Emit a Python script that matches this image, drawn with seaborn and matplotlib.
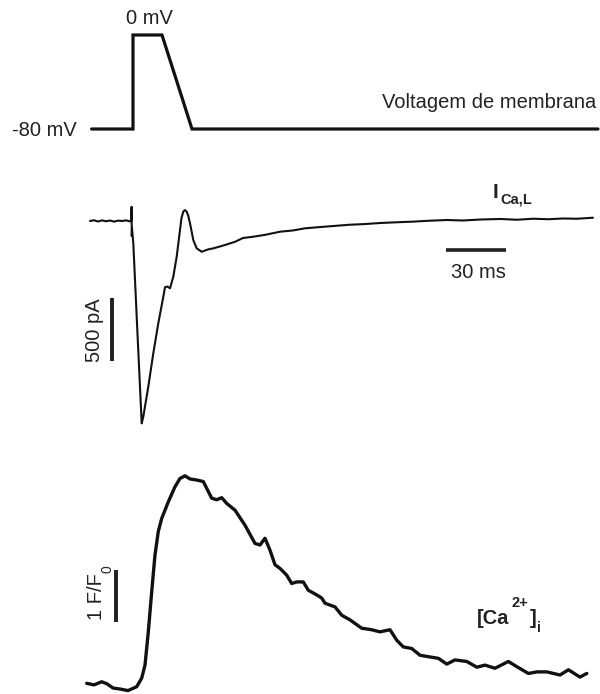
import matplotlib
matplotlib.use("Agg")
import matplotlib.pyplot as plt
import seaborn as sns
import pandas as pd

# ---------------- data ----------------
# Voltage protocol (time in ms, membrane potential in mV)
v_time = [-20.7, 0.0, 0.0, 14.5, 29.5, 232.5]
v_mV = [-80, -80, 0, 0, -80, -80]

# L-type Ca2+ current (time in ms, current in pA)
i_time = [-21.5, -19.5, -17.5, -15.5, -13.5, -11.5, -9.5, -7.5, -5.5, -3.5, -1.5, -0.9,
          -0.7, -0.6, -0.5, 0.15, 2.2, 4.35, 5.15, 7.65, 10.15, 12.65, 15.15, 16.0, 17.2,
          18.5, 20.15, 21.85, 23.5, 24.25, 25.15, 26.0, 26.85, 27.65, 28.5, 30.15, 31.85,
          34.35, 37.65, 40.15, 44.0, 47.5, 51.0, 55.0, 60.0, 66.0, 73.5, 80.0, 86.0, 93.5,
          100.0, 108.0, 115.0, 123.5, 132.0, 140.0, 148.0, 157.0, 165.0, 174.0, 183.5,
          192.0, 200.0, 208.0, 215.0, 222.0, 230.0]
i_pA = [0, 6, -4, 5, -2, 4, -5, 3, 0, 5, -3, 2,
        113, -120, -60, -175, -880, -1606, -1553, -1315, -1050, -812, -601, -526, -520,
        -534, -442, -283, -71, 24, 74, 87, 74, 40, -18, -151, -217,
        -244, -225, -217, -200, -183, -165, -135, -125, -110, -85, -75, -58, -48,
        -40, -30, -25, -16, -10, -5, 2, 8, 4, 12, 16,
        10, 18, 14, 20, 18, 26]

# Ca2+ transient (time in ms, F/F0)
c_time = [-23.15, -19.5, -15.65, -13.0, -10.0, -6.5, -2.5, 1.85, 4.35, 6.0, 7.65, 9.35,
          11.0, 12.65, 14.35, 17.65, 21.0, 23.5, 26.0, 28.5, 31.85, 35.15, 36.85, 39.35,
          41.85, 44.35, 46.85, 51.0, 56.0, 61.0, 63.5, 66.0, 68.5, 71.0, 73.5, 76.85,
          79.35, 81.85, 85.15, 87.65, 91.85, 94.35, 96.0, 101.0, 104.35, 108.5, 114.35,
          119.35, 123.5, 128.5, 131.85, 135.15, 139.35, 143.5, 148.0, 152.7, 156.9, 161.0,
          166.9, 171.9, 176.0, 181.0, 187.7, 191.9, 197.7, 202.0, 206.9, 213.5, 217.7,
          221.0, 223.5, 226.9]
c_FF0 = [0.09, 0.06, 0.12, 0.08, 0.0, -0.02, -0.05, 0.025, 0.19, 0.44, 1.08, 1.85,
         2.56, 3.01, 3.26, 3.58, 3.87, 4.03, 4.08, 4.02, 4.00, 3.97, 3.84, 3.65,
         3.62, 3.66, 3.55, 3.42, 3.13, 2.78, 2.75, 2.88, 2.65, 2.37, 2.30, 2.17,
         2.01, 2.04, 2.04, 1.88, 1.79, 1.73, 1.63, 1.56, 1.40, 1.31, 1.15,
         1.12, 1.08, 1.12, 0.92, 0.79, 0.76, 0.63, 0.60, 0.57, 0.46, 0.54,
         0.51, 0.40, 0.44, 0.38, 0.51, 0.41, 0.28, 0.31, 0.31, 0.25, 0.35,
         0.27, 0.21, 0.28]

# scale bar sizes
bar_ms = 30
bar_pA = 500
bar_FF0 = 1

# ---------------- figure ----------------
sns.set_theme(style="white")
plt.rcParams["font.family"] = ["Liberation Sans", "DejaVu Sans"]

W, H = 600, 694
fig = plt.figure(figsize=(W / 100, H / 100), dpi=100)
ink = "#111111"
txt = "#222222"

# pixel -> time mapping: x = 133 + 2*t
t_lo, t_hi = (0 - 133) / 2, (W - 133) / 2


def make_ax(ylo, yhi):
    ax = fig.add_axes([0, 0, 1, 1])
    ax.patch.set_alpha(0)
    ax.set_xlim(t_lo, t_hi)
    ax.set_ylim(ylo, yhi)
    ax.set_axis_off()
    return ax


# Voltage axes: y_px = 129 - (V+80)*94/80
vs = 94 / 80
ax_v = make_ax(-80 - (H - 129) / vs, -80 + 129 / vs)
# Current axes: y_px = 221 - I*0.126
isc = 63 / 500
ax_i = make_ax((221 - H) / isc, 221 / isc)
# Calcium axes: y_px = 688 - F*52
csc = 52
ax_c = make_ax((688 - H) / csc, 688 / csc)

dv = pd.DataFrame({"t": v_time, "v": v_mV})
di = pd.DataFrame({"t": i_time, "i": i_pA})
dc = pd.DataFrame({"t": c_time, "c": c_FF0})

sns.lineplot(data=dv, x="t", y="v", ax=ax_v, estimator=None, sort=False,
             color=ink, lw=2.3, legend=False)
sns.lineplot(data=di, x="t", y="i", ax=ax_i, estimator=None, sort=False,
             color=ink, lw=1.5, legend=False)
sns.lineplot(data=dc, x="t", y="c", ax=ax_c, estimator=None, sort=False,
             color=ink, lw=2.4, legend=False)
for ax in (ax_v, ax_i, ax_c):
    for ln in ax.lines:
        ln.set_solid_joinstyle("miter" if ax is ax_v else "round")
    ax.set_axis_off()

# scale bars (in data units of their axes)
bar_col = "#231f20"
ax_i.plot([(446 - 133) / 2, (446 - 133) / 2 + bar_ms], [(221 - 250) / isc] * 2,
          color=bar_col, lw=2.6, solid_capstyle="butt")
ax_i.plot([(111.5 - 133) / 2] * 2, [(221 - 361) / isc, (221 - 361) / isc + bar_pA],
          color=bar_col, lw=2.8, solid_capstyle="butt")
ax_c.plot([(116 - 133) / 2] * 2, [(688 - 622) / csc, (688 - 622) / csc + bar_FF0],
          color=bar_col, lw=2.8, solid_capstyle="butt")


def ftext(x, y, s, **kw):
    fig.text(x / W, 1 - y / H, s, color=txt, **kw)


fs = 14.5
ftext(149, 18, "0 mV", fontsize=fs, ha="center", va="center")
ftext(77, 130, "-80 mV", fontsize=fs, ha="right", va="center")
ftext(596, 103, "Voltagem de membrana", fontsize=fs, ha="right", va="center")
ftext(478, 273, f"{bar_ms} ms", fontsize=fs, ha="center", va="center")
ftext(94, 330, f"{bar_pA} pA", fontsize=fs, ha="center", va="center", rotation=90)
ftext(97, 597, "1 F/F", fontsize=fs, ha="center", va="center", rotation=90)
ftext(107, 569, "0", fontsize=10, ha="center", va="center", rotation=90)

# I_Ca,L label
ftext(493, 192, "I", fontsize=15, ha="left", va="center", fontweight="bold")
ftext(500, 200, "Ca,L", fontsize=10.5, ha="left", va="center", fontweight="bold")

# [Ca2+]i label
ftext(477, 619, "[Ca", fontsize=14.5, ha="left", va="center", fontweight="bold")
ftext(511, 603, "2+", fontsize=10.5, ha="left", va="center", fontweight="bold")
ftext(530, 619, "]", fontsize=14.5, ha="left", va="center", fontweight="bold")
ftext(537, 628, "i", fontsize=10, ha="left", va="center", fontweight="bold")

fig.savefig("out.png", dpi=100)
